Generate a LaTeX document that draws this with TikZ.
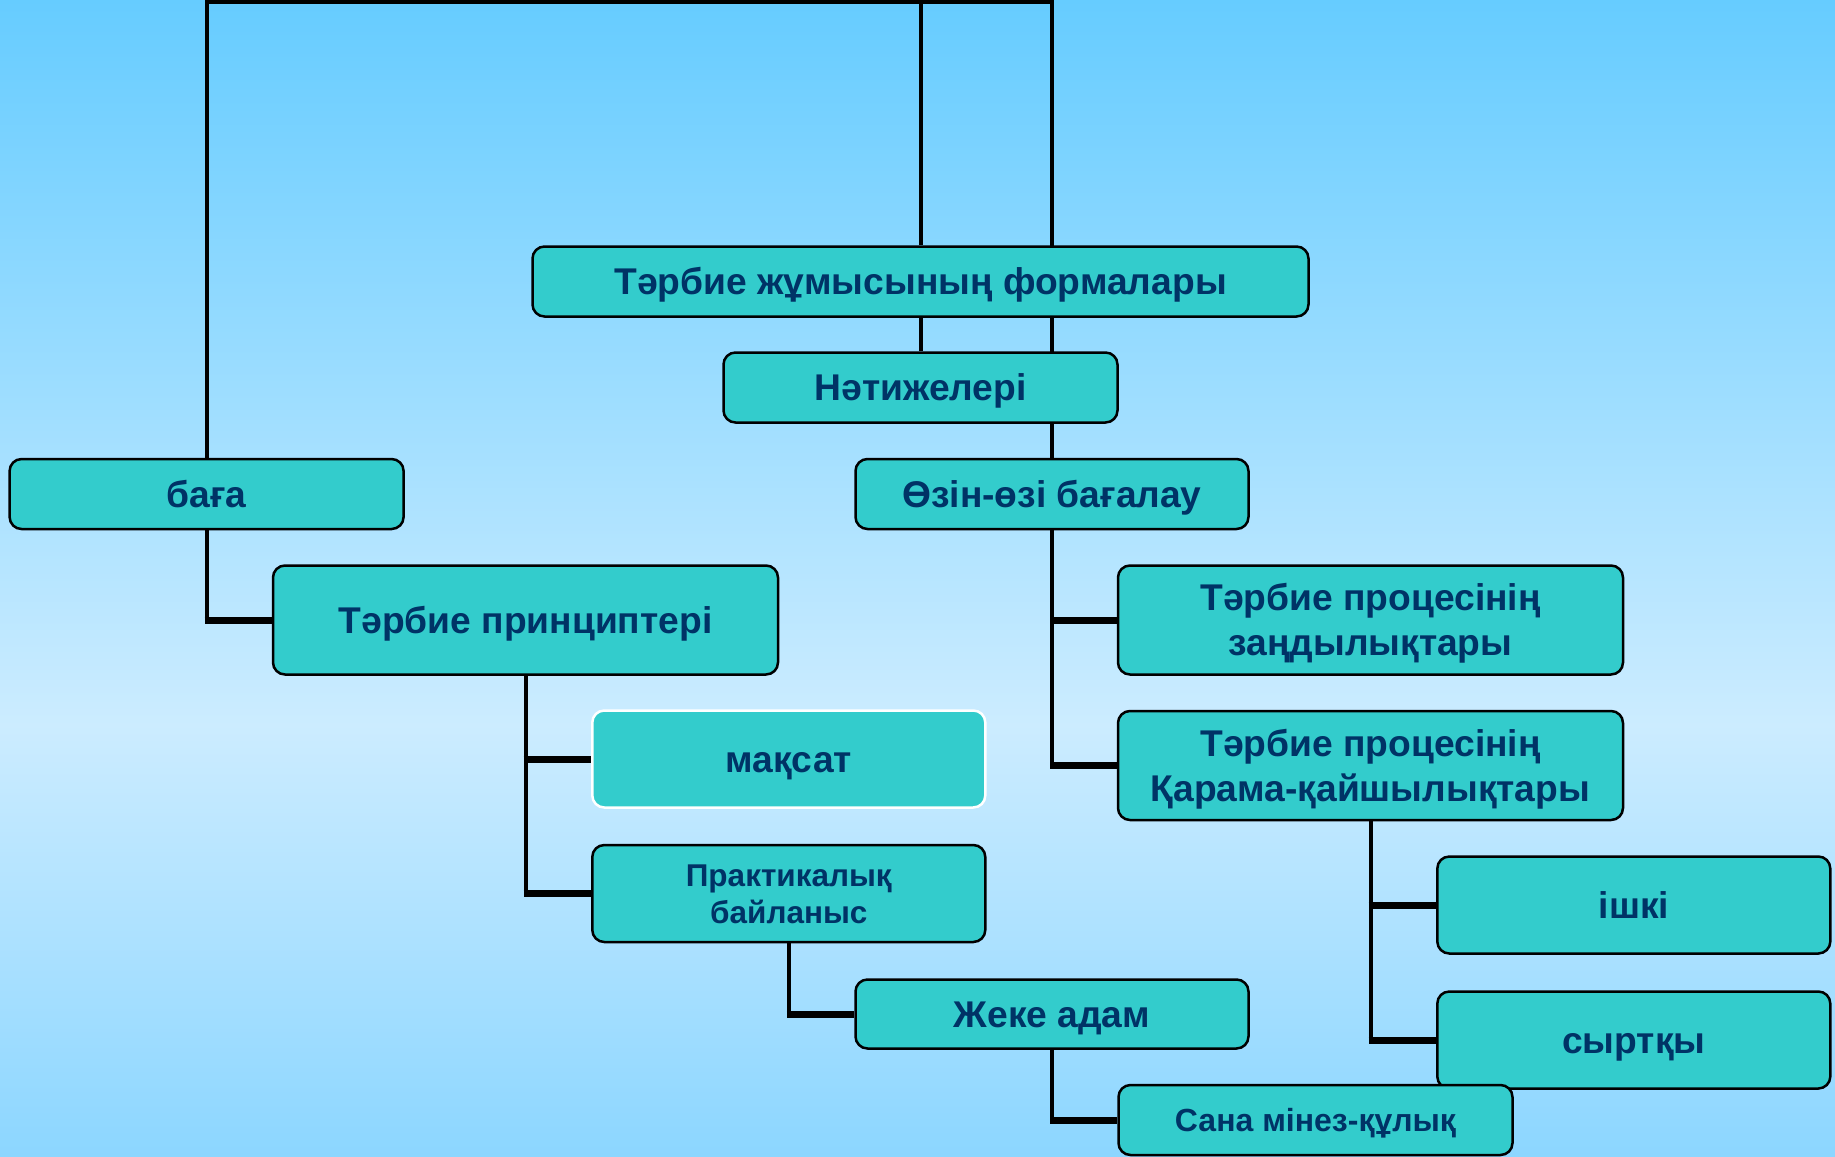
\documentclass[tikz,border=0pt]{standalone}
\usepackage{fontspec}
\setmainfont{Liberation Sans}
\definecolor{bgtop}{RGB}{102,204,255}
\definecolor{bgmid}{RGB}{204,236,255}
\definecolor{bgbot}{RGB}{140,214,255}
\definecolor{boxfill}{RGB}{51,204,204}
\definecolor{txt}{RGB}{0,51,102}
\pgfdeclarelayer{bg}
\pgfdeclarelayer{lines}
\pgfsetlayers{bg,lines,main}
\begin{document}
\begin{tikzpicture}[x=1pt,y=-1pt,
  box/.style={draw=black, line width=2.5pt, fill=boxfill, rounded corners=12pt,
    text=txt, font=\fontsize{37.2}{45}\selectfont\bfseries, align=center, inner sep=0pt,
    text height=26.6pt, text depth=0pt},
  twoline/.style={text height=71.6pt, text depth=0pt},
  smalltxt/.style={font=\fontsize{31.5}{37}\selectfont\bfseries, text height=59.5pt, text depth=0pt},
  midtxt/.style={font=\fontsize{32}{38}\selectfont\bfseries, text height=22.9pt, text depth=0pt},
  conn/.style={line width=4pt, draw=black},
  stub/.style={line width=7pt, draw=black}]
\useasboundingbox (0,0) rectangle (1835,1156);
\begin{pgfonlayer}{bg}
  \fill[top color=bgtop, bottom color=bgmid] (0,0) rectangle (1835,726);
  \fill[top color=bgmid, bottom color=bgbot] (0,724) rectangle (1835,1156);
\end{pgfonlayer}

\node[box, minimum width=776pt, minimum height=70pt] (forms) at (920.5,281.5) {Тәрбие жұмысының формалары};
\node[box, minimum width=394pt, minimum height=70pt] (natije) at (920.5,387.5) {Нәтижелері};
\node[box, minimum width=394pt, minimum height=70pt] (baga) at (206.6,494) {баға};
\node[box, minimum width=393pt, minimum height=70pt] (ozin) at (1052,494) {Өзін-өзі бағалау};
\node[box, minimum width=505pt, minimum height=109pt] (princ) at (525.5,620) {Тәрбие принциптері};
\node[box, twoline, minimum width=505pt, minimum height=109pt] (zan) at (1370.5,620) {Тәрбие процесінің\\заңдылықтары};
\node[box, draw=white, minimum width=393pt, minimum height=97pt] (maqsat) at (788.8,759) {мақсат};
\node[box, twoline, minimum width=505pt, minimum height=109pt] (qarama) at (1370.5,765.5) {Тәрбие процесінің\\Қарама-қайшылықтары};
\node[box, smalltxt, minimum width=393pt, minimum height=97pt] (prak) at (788.8,893.5) {Практикалық\\байланыс};
\node[box, minimum width=393pt, minimum height=97pt] (ishki) at (1633.8,905) {ішкі};
\node[box, minimum width=393pt, minimum height=69pt] (zheke) at (1052,1014) {Жеке адам};
\node[box, minimum width=393pt, minimum height=97pt] (syrt) at (1633.8,1040) {сыртқы};
\node[box, midtxt, minimum width=394pt, minimum height=70pt] (sana) at (1315.5,1120) {Сана мінез-құлық};

\coordinate (top) at (600,2);
\begin{pgfonlayer}{lines}
  \draw[conn] (baga.north) |- (top) -| (ozin.north);
  \draw[conn] (forms.north) -- (forms.north |- top);
  \draw[conn] (forms.south) -- (natije.north);
  % баға -> принциптері
  \draw[conn] (baga.south) -- (baga.south |- princ.west);
  \draw[stub] ([xshift=-2pt]baga.south |- princ.west) -- (princ.west);
  % Өзін-өзі -> заңдылықтары, Қарама
  \draw[conn] (ozin.south) -- (ozin.south |- qarama.west);
  \draw[stub] ([xshift=-2pt]ozin.south |- zan.west) -- (zan.west);
  \draw[stub] ([xshift=-2pt]ozin.south |- qarama.west) -- (qarama.west);
  % принциптері -> мақсат, Практикалық
  \draw[conn] (princ.south) -- (princ.south |- prak.west);
  \draw[stub] ([xshift=-2pt]princ.south |- maqsat.west) -- (maqsat.west);
  \draw[stub] ([xshift=-2pt]princ.south |- prak.west) -- (prak.west);
  % Практикалық -> Жеке адам
  \draw[conn] (prak.south) -- (prak.south |- zheke.west);
  \draw[stub] ([xshift=-2pt]prak.south |- zheke.west) -- (zheke.west);
  % Жеке адам -> Сана
  \draw[conn] (zheke.south) -- (zheke.south |- sana.west);
  \draw[stub] ([xshift=-2pt]zheke.south |- sana.west) -- (sana.west);
  % Қарама -> ішкі, сыртқы
  \draw[conn] (qarama.south) -- (qarama.south |- syrt.west);
  \draw[stub] ([xshift=-2pt]qarama.south |- ishki.west) -- (ishki.west);
  \draw[stub] ([xshift=-2pt]qarama.south |- syrt.west) -- (syrt.west);
\end{pgfonlayer}
\end{tikzpicture}
\end{document}
